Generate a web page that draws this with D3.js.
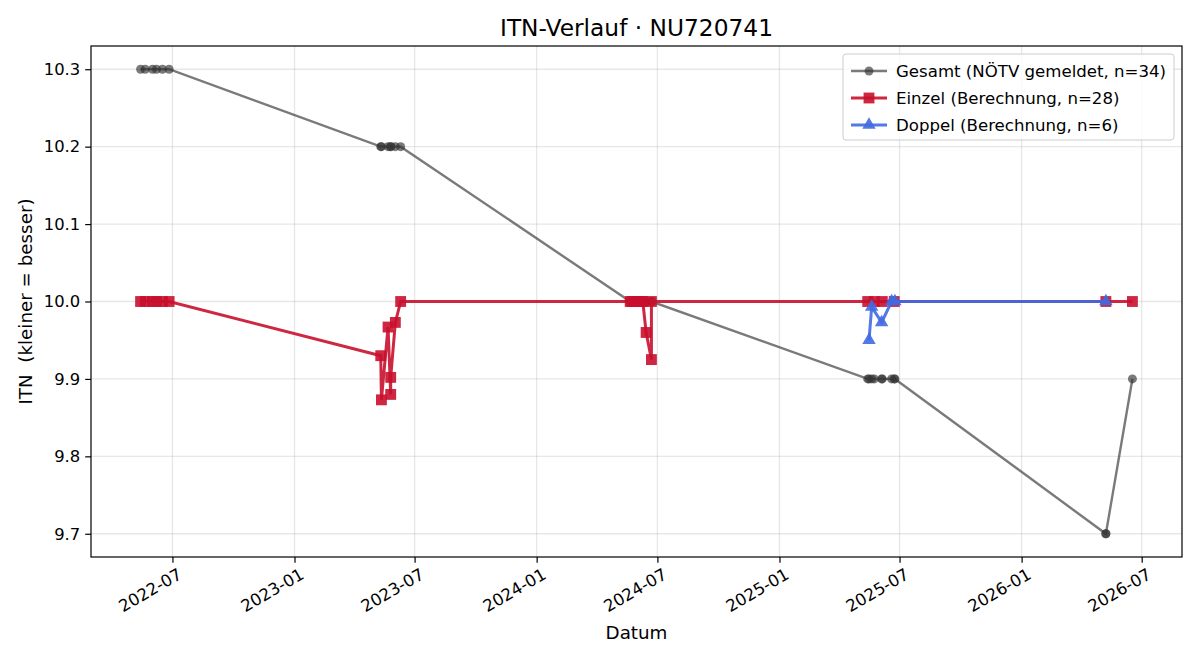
<!DOCTYPE html>
<html>
<head>
<meta charset="utf-8">
<script src="https://cdn.jsdelivr.net/npm/d3@7"></script>
<style>
  body { margin: 0; background: #fff; }
  text { font-family: "DejaVu Sans", sans-serif; }
</style>
</head>
<body>
<div id="chart"></div>
<script>
// Gesamt (NÖTV gemeldet)
const gesamtDates = [
  "2022-05-14", "2022-05-21", "2022-06-01", "2022-06-07", "2022-06-16", "2022-06-26",
  "2023-05-11", "2023-05-12", "2023-05-22", "2023-05-26", "2023-05-26", "2023-06-02", "2023-06-10",
  "2024-05-21", "2024-05-24", "2024-05-28", "2024-06-02", "2024-06-06", "2024-06-09", "2024-06-14", "2024-06-22", "2024-06-22",
  "2025-05-14", "2025-05-16", "2025-05-20", "2025-05-24", "2025-06-04", "2025-06-05", "2025-06-19", "2025-06-23", "2025-06-24",
  "2026-05-08", "2026-05-08", "2026-06-17"
];
const gesamtValues = [
  10.3, 10.3, 10.3, 10.3, 10.3, 10.3,
  10.2, 10.2, 10.2, 10.2, 10.2, 10.2, 10.2,
  10.0, 10.0, 10.0, 10.0, 10.0, 10.0, 10.0, 10.0, 10.0,
  9.9, 9.9, 9.9, 9.9, 9.9, 9.9, 9.9, 9.9, 9.9,
  9.7, 9.7, 9.9
];

// Einzel (Berechnung)
const einzelDates = [
  "2022-05-14", "2022-05-21", "2022-06-01", "2022-06-07", "2022-06-16", "2022-06-26",
  "2023-05-11", "2023-05-12", "2023-05-22", "2023-05-26", "2023-05-26", "2023-06-02", "2023-06-10",
  "2024-05-21", "2024-05-24", "2024-05-28", "2024-06-02", "2024-06-06", "2024-06-09", "2024-06-14", "2024-06-22", "2024-06-22",
  "2025-05-14", "2025-05-24", "2025-06-05", "2025-06-23",
  "2026-05-08", "2026-06-17"
];
const einzelValues = [
  10.0, 10.0, 10.0, 10.0, 10.0, 10.0,
  9.930, 9.873, 9.967, 9.880, 9.902, 9.973, 10.0,
  10.0, 10.0, 10.0, 10.0, 10.0, 10.0, 9.960, 9.925, 10.0,
  10.0, 10.0, 10.0, 10.0,
  10.0, 10.0
];

// Doppel (Berechnung)
const doppelDates = ["2025-05-16", "2025-05-20", "2025-06-04", "2025-06-19", "2025-06-24", "2026-05-08"];
const doppelValues = [9.950, 9.993, 9.973, 10.0, 10.0, 10.0];

const xTicks = ["2022-07-01", "2023-01-01", "2023-07-01", "2024-01-01", "2024-07-01",
                "2025-01-01", "2025-07-01", "2026-01-01", "2026-07-01"];
const yTicks = [9.7, 9.8, 9.9, 10.0, 10.1, 10.2, 10.3];

const parse = d3.utcParse("%Y-%m-%d");
const toPoints = (dates, vals) => dates.map((d, i) => ({ date: parse(d), value: vals[i] }));
const gesamt = toPoints(gesamtDates, gesamtValues);
const einzel = toPoints(einzelDates, einzelValues);
const doppel = toPoints(doppelDates, doppelValues);

const W = 1200, H = 660;
const margin = { top: 46, right: 18, bottom: 103, left: 91 };
const width = W - margin.left - margin.right;
const height = H - margin.top - margin.bottom;

const grey = "#333", red = "#c8102e", blue = "#4169e1";

const svg = d3.select("#chart").append("svg")
  .attr("width", W).attr("height", H);
const g = svg.append("g").attr("transform", `translate(${margin.left},${margin.top})`);

// 5% padding like matplotlib autoscale
const all = gesamt.concat(einzel, doppel);
const [t0, t1] = d3.extent(all, d => d.date);
const pad = (t1 - t0) * 0.05;
const x = d3.scaleUtc().domain([new Date(+t0 - pad), new Date(+t1 + pad)]).range([0, width]);
const [v0, v1] = d3.extent(all, d => d.value);
const vpad = (v1 - v0) * 0.05;
const y = d3.scaleLinear().domain([v0 - vpad, v1 + vpad]).range([height, 0]);

// Grid
g.append("g").selectAll("line").data(xTicks.map(parse)).join("line")
  .attr("x1", d => x(d)).attr("x2", d => x(d)).attr("y1", 0).attr("y2", height)
  .attr("stroke", "#b0b0b0").attr("stroke-opacity", 0.3).attr("stroke-width", 1.3);
g.append("g").selectAll("line").data(yTicks).join("line")
  .attr("y1", d => y(d)).attr("y2", d => y(d)).attr("x1", 0).attr("x2", width)
  .attr("stroke", "#b0b0b0").attr("stroke-opacity", 0.3).attr("stroke-width", 1.3);

// Axes
const xAxis = g.append("g").attr("transform", `translate(0,${height})`)
  .call(d3.axisBottom(x).tickValues(xTicks.map(parse)).tickFormat(d3.utcFormat("%Y-%m")).tickSize(5.8).tickPadding(3));
xAxis.selectAll("text")
  .attr("font-size", 16.6).attr("fill", "#000")
  .attr("text-anchor", "end")
  .attr("dy", "0.75em")
  .attr("transform", "translate(4,10) rotate(-30)")
  .attr("y", 0).attr("x", 0);
const yAxis = g.append("g")
  .call(d3.axisLeft(y).tickValues(yTicks).tickFormat(d3.format(".1f")).tickSize(5.8).tickPadding(5));
yAxis.selectAll("text").attr("font-size", 16.4).attr("fill", "#000");
g.selectAll(".domain").remove();
g.selectAll(".tick line").attr("stroke", "#000").attr("stroke-width", 1.2);

g.append("rect").attr("width", width).attr("height", height)
  .attr("fill", "none").attr("stroke", "#000").attr("stroke-width", 1.2);

// Lines
const line = d3.line().x(d => x(d.date)).y(d => y(d.value));

g.append("path").datum(gesamt).attr("d", line)
  .attr("fill", "none").attr("stroke", grey).attr("stroke-opacity", 0.65).attr("stroke-width", 2.4);
g.append("g").selectAll("circle").data(gesamt).join("circle")
  .attr("cx", d => x(d.date)).attr("cy", d => y(d.value)).attr("r", 4.5)
  .attr("fill", grey).attr("fill-opacity", 0.65);

g.append("path").datum(einzel).attr("d", line)
  .attr("fill", "none").attr("stroke", red).attr("stroke-opacity", 0.9).attr("stroke-width", 3);
const sq = d3.symbol().type(d3.symbolSquare).size(118);
g.append("g").selectAll("path").data(einzel).join("path")
  .attr("d", sq).attr("transform", d => `translate(${x(d.date)},${y(d.value)})`)
  .attr("fill", red).attr("fill-opacity", 0.9);

g.append("path").datum(doppel).attr("d", line)
  .attr("fill", "none").attr("stroke", blue).attr("stroke-opacity", 0.9).attr("stroke-width", 3);
const tri = d3.symbol().type(d3.symbolTriangle).size(78);
g.append("g").selectAll("path").data(doppel).join("path")
  .attr("d", tri).attr("transform", d => `translate(${x(d.date)},${y(d.value)})`)
  .attr("fill", blue).attr("fill-opacity", 0.9);

// Title and labels
svg.append("text").attr("x", margin.left + width / 2).attr("y", 36)
  .attr("text-anchor", "middle").attr("font-size", 23.3).text("ITN-Verlauf · NU720741");
svg.append("text").attr("x", margin.left + width / 2).attr("y", 639)
  .attr("text-anchor", "middle").attr("font-size", 18.3).text("Datum");
svg.append("text").attr("transform", `translate(32,${margin.top + height / 2}) rotate(-90)`)
  .attr("text-anchor", "middle").attr("font-size", 18.3).style("white-space", "pre")
  .text("ITN  (kleiner = besser)");

// Legend
const legendItems = [
  { label: "Gesamt (NÖTV gemeldet, n=34)", color: grey, op: 0.65, kind: "circle" },
  { label: "Einzel (Berechnung, n=28)", color: red, op: 0.9, kind: "square" },
  { label: "Doppel (Berechnung, n=6)", color: blue, op: 0.9, kind: "triangle" }
];
const lg = svg.append("g").attr("transform", "translate(843,54)");
lg.append("rect").attr("width", 331).attr("height", 86).attr("rx", 3)
  .attr("fill", "#fff").attr("fill-opacity", 0.8).attr("stroke", "#cccccc");
legendItems.forEach((it, i) => {
  const yy = 17 + i * 27;
  const row = lg.append("g").attr("transform", `translate(0,${yy})`);
  row.append("line").attr("x1", 8).attr("x2", 44).attr("y1", 0).attr("y2", 0)
    .attr("stroke", it.color).attr("stroke-opacity", it.op).attr("stroke-width", it.kind === "circle" ? 2.4 : 3);
  const sym = it.kind === "circle" ? d3.symbol().type(d3.symbolCircle).size(62)
    : it.kind === "square" ? d3.symbol().type(d3.symbolSquare).size(118)
    : d3.symbol().type(d3.symbolTriangle).size(78);
  row.append("path").attr("d", sym).attr("transform", "translate(26,0)")
    .attr("fill", it.color).attr("fill-opacity", it.op);
  row.append("text").attr("x", 53).attr("y", 0).attr("dy", "0.35em")
    .attr("font-size", 16.6).text(it.label);
});
</script>
</body>
</html>
